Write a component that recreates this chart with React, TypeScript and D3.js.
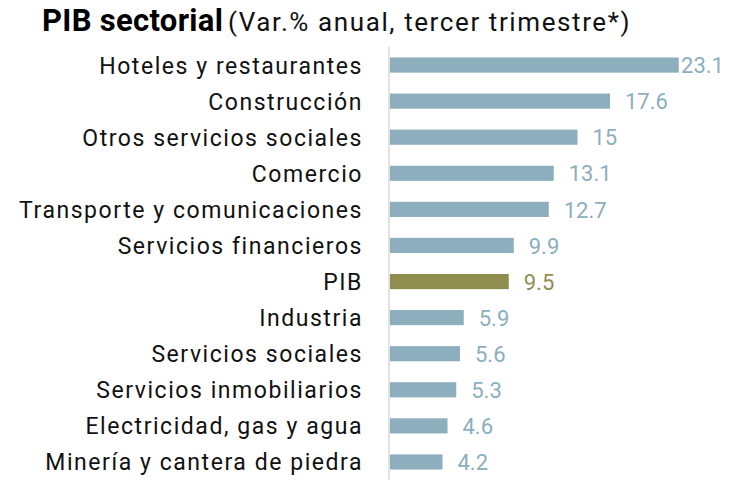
import React from "react";
import * as d3 from "d3";

const categories = [
  "Hoteles y restaurantes",
  "Construcción",
  "Otros servicios sociales",
  "Comercio",
  "Transporte y comunicaciones",
  "Servicios financieros",
  "PIB",
  "Industria",
  "Servicios sociales",
  "Servicios inmobiliarios",
  "Electricidad, gas y agua",
  "Minería y cantera de piedra",
];
const values = [23.1, 17.6, 15, 13.1, 12.7, 9.9, 9.5, 5.9, 5.6, 5.3, 4.6, 4.2];
const labels = ["23.1", "17.6", "15", "13.1", "12.7", "9.9", "9.5", "5.9", "5.6", "5.3", "4.6", "4.2"];
const highlight = "PIB";

const W = 744;
const H = 480;
const axisX = 389;
const chartRight = 726;
const FONT = "Roboto, 'Noto Sans', sans-serif";

export default function App() {
  const x = d3.scaleLinear().domain([0, 1]).range([axisX + 1, axisX + 1 + 12.5]);
  const y = d3.scaleBand<string>().domain(categories).range([47, 480]).paddingInner(0.58).paddingOuter(0.29);
  const barColor = "#8caebd";
  const pibColor = "#8f8d4f";
  return (
    <svg width={W} height={H} style={{ position: "absolute", left: 0, top: 0 }}>
      <rect width={W} height={H} fill="#fff" />
      <text x={42} y={31} fontFamily={FONT} fontWeight={700} fontSize={31} letterSpacing={0.3} fill="#000">
        PIB sectorial
      </text>
      <text x={228} y={31} fontFamily={FONT} fontSize={26} letterSpacing={1.6} fill="#111">
        (Var.% anual, tercer trimestre*)
      </text>
      <line x1={axisX} x2={axisX} y1={47} y2={480} stroke="#d9d9d9" strokeWidth={1.5} />
      {categories.map((c, i) => {
        const yy = y(c)!;
        const bw = y.bandwidth();
        const xe = x(values[i]);
        const col = c === highlight ? pibColor : barColor;
        const estW = labels[i].length * 11;
        const fits = xe + 15 + estW <= chartRight;
        return (
          <g key={c}>
            <rect x={axisX + 1} y={yy} width={xe - axisX - 1} height={bw} fill={col} />
            <text
              x={axisX - 26}
              y={yy + bw / 2}
              dy="0.37em"
              textAnchor="end"
              fontFamily={FONT}
              fontSize={23}
              letterSpacing={1.55}
              fill="#111"
            >
              {c}
            </text>
            <text
              x={fits ? xe + 15 : chartRight - 2}
              y={yy + bw / 2}
              dy="0.37em"
              textAnchor={fits ? "start" : "end"}
              fontFamily={FONT}
              fontSize={22}
              fill={col}
            >
              {labels[i]}
            </text>
          </g>
        );
      })}
    </svg>
  );
}
